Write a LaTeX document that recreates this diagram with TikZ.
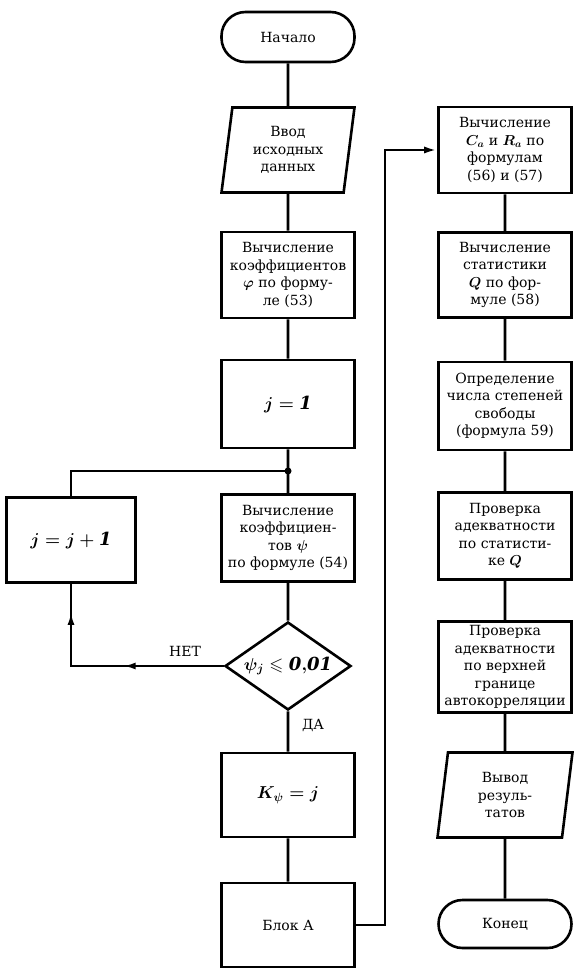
\documentclass[tikz,border=0pt]{standalone}
\usepackage{amsmath}
\usepackage{amssymb}
\usepackage{fontspec}
\setmainfont{DejaVu Serif}
\usetikzlibrary{shapes.geometric,arrows.meta,decorations.markings}

\begin{document}
\begin{tikzpicture}[x=1pt,y=-1pt,
  ln/.style={line width=2.6pt},
  blk/.style={draw,line width=2.6pt,minimum width=133pt,minimum height=86pt,
    inner sep=0pt,align=center,font=\fontsize{14}{17.5}\selectfont},
  mth/.style={font=\fontsize{18}{20}\selectfont\boldmath},
  term/.style={blk,rounded corners=24pt,minimum height=50pt},
  io/.style={blk,trapezium,trapezium left angle=77,trapezium right angle=103,
    trapezium stretches body},
  cond/.style={blk,diamond,aspect=1.43,minimum width=126pt,minimum height=88pt},
  lbl/.style={font=\fontsize{14}{17.5}\selectfont},
  tip/.style={-{Latex[length=13pt,width=7pt]}},
  loopar/.style={postaction={decorate},decoration={markings,
    mark=at position 0.43 with {\arrow{Latex[length=13pt,width=7pt]}},
    mark=at position 0.88 with {\arrow{Latex[length=13pt,width=7pt]}}}}]

\useasboundingbox (0,0) rectangle (586,973);

\node[term] (beg) at (288,37) {Начало};
\node[io,minimum height=85pt] (inp) at (288,150) {Ввод\\исходных\\данных};
\node[blk] (phi) at (288,275) {Вычисление\\коэффициентов\\$\boldsymbol{\varphi}$ по форму-\\ле (53)};
\node[blk,mth,minimum height=88pt] (j1) at (288,404) {$j = \mathit{1}$};
\node[blk,minimum height=87pt] (psi) at (288,538) {Вычисление\\коэффициен-\\тов $\boldsymbol{\psi}$\\по формуле (54)};
\node[cond,mth] (cnd) at (288,666) {$\psi_j \leqslant \mathit{0{,}01}$};
\node[blk,mth,minimum height=84pt] (kps) at (288,795) {$K_\psi = j$};
\node[blk,minimum height=84pt] (bla) at (288,925) {Блок А};
\node[blk,mth,minimum width=129pt,minimum height=85pt] (inc) at (71,540) {$j = j + \mathit{1}$};

\node[blk] (ca) at (505,150) {Вычисление\\$\boldsymbol{C_a}$ и $\boldsymbol{R_a}$ по\\формулам\\(56) и (57)};
\node[blk,minimum height=85pt] (qs) at (505,275) {Вычисление\\статистики\\$\boldsymbol{Q}$ по фор-\\муле (58)};
\node[blk,minimum height=88pt] (df) at (505,406) {Определение\\числа степеней\\свободы\\(формула 59)};
\node[blk,minimum height=87pt] (pq) at (505,536) {Проверка\\адекватности\\по статисти-\\ке $\boldsymbol{Q}$};
\node[blk,minimum height=91pt] (pr) at (505,667) {Проверка\\адекватности\\по верхней\\границе\\автокорреляции};
\node[io,minimum width=135pt,minimum height=85pt] (out) at (505,795) {Вывод\\резуль-\\татов};
\node[term,minimum height=48pt] (fin) at (505,924) {Конец};

\coordinate (jn) at (288,471);
\coordinate (rt) at (385,925);

\draw[ln] (beg) -- (inp) -- (phi) -- (j1) -- (psi) -- (cnd) -- (kps) -- (bla);
\draw[ln] (ca) -- (qs) -- (df) -- (pq) -- (pr) -- (out) -- (fin);
\fill (jn) circle (3.5pt);
\draw[ln] (jn) -| (inc.north);
\draw[ln,loopar] (cnd.west) -| (inc.south);
\draw[ln,tip] (bla.east) -- (rt) |- (ca.west);

\node[lbl] (no) at (185,651) {НЕТ};
\node[lbl] (yes) at (313,725) {ДА};

\end{tikzpicture}
\end{document}
